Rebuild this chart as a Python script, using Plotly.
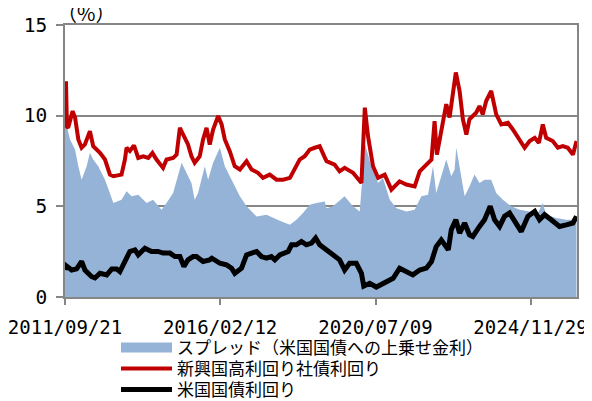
import plotly.graph_objects as go

# ---- data ----
hy_dates = ["2011-09-21","2011-10-01","2011-10-11","2011-10-24","2011-12-09","2012-01-03","2012-02-06","2012-03-11",
            "2012-04-14","2012-06-05","2012-07-09","2012-09-17","2012-11-08","2012-12-29","2013-02-03","2013-04-28",
            "2013-06-02","2013-06-19","2013-07-23","2013-09-04","2013-10-18","2013-12-09","2014-01-30","2014-03-14",
            "2014-04-25","2014-07-02","2014-08-07","2014-10-14","2014-11-19","2014-12-23","2015-01-26","2015-03-17",
            "2015-04-22","2015-05-25","2015-07-16","2015-08-20","2015-09-25","2015-10-28","2015-12-02","2016-01-23",
            "2016-02-28","2016-04-01","2016-05-22","2016-07-13","2016-09-04","2016-11-12","2017-01-03","2017-03-10",
            "2017-05-01","2017-07-10","2017-09-18","2017-11-25","2018-02-04","2018-03-25","2018-05-16","2018-07-07",
            "2018-08-28","2018-10-19","2018-12-09","2019-01-30","2019-02-18","2019-05-12","2019-07-03","2019-08-24",
            "2019-11-19","2020-02-14","2020-03-20","2020-04-22","2020-06-13","2020-08-04","2020-10-12","2020-12-20",
            "2021-03-15","2021-05-23","2021-08-18","2021-10-09","2021-12-17","2022-02-08","2022-03-12","2022-04-05",
            "2022-05-20","2022-07-11","2022-08-14","2022-10-05","2022-10-18","2022-11-26","2022-12-30","2023-02-04",
            "2023-03-08","2023-05-16","2023-06-20","2023-07-23","2023-08-28","2023-10-19","2023-12-10","2024-02-01",
            "2024-04-09","2024-05-30","2024-07-21","2024-09-29","2024-11-20","2025-01-11","2025-02-24","2025-04-05",
            "2025-05-10","2025-07-17","2025-09-08","2025-10-29","2025-12-20","2026-02-11","2026-03-20"]
hy_values = [9.5, 11.9, 9.4, 9.33, 10.25, 9.9, 8.69, 8.23,
             8.41, 9.15, 8.32, 7.95, 7.58, 6.75, 6.66, 6.75,
             7.58, 8.23, 8.05, 8.36, 7.67, 7.76, 7.67, 7.95,
             7.58, 7.12, 7.58, 7.67, 7.85, 9.33, 8.96, 8.41,
             7.76, 7.40, 7.76, 8.69, 9.33, 8.41, 9.24, 9.98,
             9.52, 8.69, 8.04, 7.21, 7.03, 7.49, 7.03, 6.85,
             6.57, 6.75, 6.47, 6.47, 6.57, 7.03, 7.58, 7.76,
             8.13, 8.23, 8.32, 7.70, 7.49, 7.30, 6.93, 7.12,
             6.85, 6.29, 10.44, 8.87, 7.21, 6.57, 6.75, 5.92,
             6.38, 6.20, 6.10, 6.93, 7.30, 7.58, 9.70, 7.85,
             9.15, 10.63, 9.90, 11.8, 12.38, 11.36, 9.80, 8.96,
             9.80, 10.16, 10.53, 10.07, 10.81, 11.36, 10.07, 9.52,
             9.61, 9.24, 8.78, 8.23, 8.60, 8.78, 8.50, 9.52,
             8.78, 8.60, 8.23, 8.32, 8.23, 7.85, 8.60]

ust_dates = ["2011-09-21","2011-10-01","2011-11-29","2012-01-20","2012-03-11","2012-04-14","2012-06-23","2012-07-27",
             "2012-09-17","2012-11-26","2013-01-17","2013-03-08","2013-04-11","2013-06-02","2013-07-23","2013-09-14",
             "2013-10-18","2013-12-26","2014-03-04","2014-05-11","2014-07-02","2014-09-11","2014-11-02","2014-12-23",
             "2015-02-03","2015-03-17","2015-05-08","2015-06-13","2015-08-20","2015-10-28","2015-11-19","2016-02-10",
             "2016-04-19","2016-06-10","2016-07-13","2016-09-21","2016-11-12","2017-01-03","2017-02-24","2017-04-15",
             "2017-06-06","2017-07-27","2017-09-01","2017-10-22","2017-12-13","2018-01-17","2018-02-21","2018-04-12",
             "2018-06-03","2018-07-24","2018-09-15","2018-10-28","2018-12-09","2019-01-30","2019-02-18","2019-04-25",
             "2019-07-03","2019-08-24","2019-10-15","2019-12-23","2020-02-14","2020-03-09","2020-05-09","2020-07-17",
             "2020-10-12","2021-01-07","2021-03-15","2021-05-23","2021-07-30","2021-10-09","2021-12-17","2022-02-08",
             "2022-03-29","2022-05-20","2022-07-11","2022-08-01","2022-09-01","2022-10-18","2022-11-26","2023-01-17",
             "2023-03-08","2023-04-12","2023-06-20","2023-08-11","2023-10-09","2023-11-23","2024-01-14","2024-03-05",
             "2024-04-26","2024-07-04","2024-08-25","2024-11-02","2025-01-11","2025-03-02","2025-04-23","2025-07-01",
             "2025-09-25","2025-12-04","2026-02-11","2026-03-20"]
ust_values = [1.49, 1.73, 1.49, 1.55, 1.96, 1.49, 1.12, 1.05,
              1.31, 1.22, 1.55, 1.55, 1.40, 2.05, 2.51, 2.60,
              2.33, 2.69, 2.51, 2.51, 2.42, 2.42, 2.23, 2.23,
              1.68, 2.05, 2.23, 2.23, 1.96, 2.05, 2.14, 1.86,
              1.77, 1.59, 1.31, 1.59, 2.32, 2.42, 2.51, 2.23,
              2.14, 2.23, 2.05, 2.32, 2.42, 2.51, 2.88, 2.88,
              3.06, 2.88, 2.97, 3.25, 2.88, 2.65, 2.60, 2.32,
              2.05, 1.49, 1.86, 1.86, 1.31, 0.60, 0.76, 0.55,
              0.76, 1.03, 1.59, 1.40, 1.22, 1.49, 1.59, 1.96,
              2.78, 3.15, 2.69, 2.60, 3.71, 4.26, 3.52, 4.08,
              3.43, 3.34, 3.89, 4.26, 5.00, 4.26, 3.89, 4.45,
              4.63, 4.08, 3.61, 4.45, 4.72, 4.26, 4.54, 4.26,
              3.89, 3.98, 4.08, 4.45]

spread_dates = ["2011-09-21","2011-10-01","2011-11-12","2012-01-03","2012-02-06","2012-03-11","2012-05-02","2012-06-05",
                "2012-07-09","2012-08-30","2012-11-08","2012-12-29","2013-02-03","2013-04-28","2013-06-19","2013-08-10",
                "2013-10-18","2014-01-13","2014-03-20","2014-06-16","2014-08-07","2014-10-14","2015-01-10","2015-03-01",
                "2015-04-22","2015-05-25","2015-06-29","2015-09-07","2015-10-11","2015-12-02","2016-02-10","2016-04-01",
                "2016-06-10","2016-09-04","2016-11-12","2017-02-24","2017-06-06","2017-09-01","2017-11-09","2018-02-04",
                "2018-04-12","2018-06-19","2018-08-28","2018-11-06","2019-01-30","2019-02-18","2019-04-25","2019-08-24",
                "2019-11-19","2020-01-27","2020-03-23","2020-05-26","2020-08-04","2020-09-24","2020-12-03","2021-02-11",
                "2021-05-23","2021-08-18","2021-10-26","2022-01-03","2022-02-24","2022-03-29","2022-05-20","2022-07-11",
                "2022-09-01","2022-10-05","2022-10-23","2022-12-14","2023-01-17","2023-03-08","2023-04-29","2023-06-20",
                "2023-08-11","2023-10-19","2023-12-10","2024-02-17","2024-05-13","2024-08-08","2024-11-20","2025-02-14",
                "2025-04-05","2025-05-10","2025-08-22","2025-12-04","2026-03-20"]
spread_values = [9.42, 9.6, 8.69, 8.13, 7.21, 6.47, 7.21, 7.95,
                 7.58, 7.21, 6.47, 5.74, 5.18, 5.36, 5.83, 5.55,
                 5.64, 5.18, 5.36, 4.81, 5.18, 5.74, 7.40, 6.85,
                 6.29, 5.36, 5.74, 7.21, 6.47, 7.40, 8.23, 7.21,
                 6.47, 5.55, 5.00, 4.44, 4.53, 4.35, 4.17, 3.98,
                 4.26, 4.63, 5.09, 5.18, 5.27, 4.90, 5.00, 5.55,
                 5.00, 4.72, 8.41, 7.21, 6.29, 6.56, 5.36, 4.90,
                 4.72, 4.81, 5.55, 5.64, 7.21, 5.74, 6.66, 7.58,
                 6.66, 7.03, 8.23, 6.66, 5.55, 6.10, 6.75, 6.29,
                 6.47, 6.47, 5.74, 5.36, 5.00, 4.81, 4.72, 4.63,
                 5.18, 4.53, 4.35, 4.26, 4.26]

tick_dates = ["2011-09-21", "2016-02-12", "2020-07-09", "2024-11-29"]
tick_labels = ["2011/09/21", "2016/02/12", "2020/07/09", "2024/11/29"]
y_ticks = [0, 5, 10, 15]

names = ["スプレッド（米国国債への上乗せ金利）", "新興国高利回り社債利回り", "米国国債利回り"]

BLUE = "#95B3D7"
RED = "#C00000"
GRAY = "#868686"
FONT = "Noto Sans CJK JP"
TICKFONT = "DejaVu Sans Mono"
OFF = 8  # page body margin of the html page

fig = go.Figure()
fig.add_trace(go.Scatter(x=spread_dates, y=spread_values, mode="lines", fill="tozeroy",
                         fillcolor=BLUE, line=dict(width=0, color=BLUE),
                         name=names[0], showlegend=False, legendgroup="s", hoverinfo="skip"))
# legend entry for the area (thick swatch)
fig.add_trace(go.Scatter(x=[None], y=[None], mode="lines", line=dict(width=10, color=BLUE),
                         name=names[0], legendgroup="s", legend="legend"))
fig.add_trace(go.Scatter(x=hy_dates, y=hy_values, mode="lines",
                         line=dict(width=4, color=RED), name=names[1], legend="legend2"))
fig.add_trace(go.Scatter(x=ust_dates, y=ust_values, mode="lines",
                         line=dict(width=5, color="black"), name=names[2], legend="legend3"))

W, H = 592, 401

def leg(yc):
    return dict(xref="container", yref="container", x=(116 - OFF) / W, y=1 - (yc - OFF) / H,
                xanchor="left", yanchor="middle",
                font=dict(family=FONT, size=17, color="black"),
                itemwidth=51, bgcolor="rgba(0,0,0,0)", borderwidth=0)

fig.update_layout(
    width=W, height=H,
    margin=dict(l=65 - OFF, r=W - (577.5 - OFF), t=25 - OFF, b=H - (297 - OFF), autoexpand=False),
    paper_bgcolor="white", plot_bgcolor="white",
    font=dict(family=FONT, size=18, color="black"),
    showlegend=True,
    legend=leg(348), legend2=leg(369), legend3=leg(390),
    annotations=[dict(text="（%）", xref="paper", yref="paper", x=0, y=1,
                      xanchor="left", yanchor="middle", xshift=-10, yshift=13,
                      showarrow=False, font=dict(family=FONT, size=20, color="black"))],
)
fig.update_xaxes(
    type="date", range=["2011-09-21", "2026-03-25"], automargin=False,
    tickmode="array", tickvals=tick_dates, ticktext=tick_labels,
    ticks="outside", ticklen=6, tickcolor=GRAY, tickwidth=1.5,
    showline=True, linecolor=GRAY, linewidth=1.5, mirror=True,
    showgrid=False, zeroline=False, ticklabeloverflow="allow",
    tickfont=dict(family=TICKFONT, size=19, color="black"),
    ticklabelstandoff=6,
)
fig.update_yaxes(
    range=[0, 15], tickmode="array", tickvals=y_ticks, automargin=False,
    ticks="outside", ticklen=7, tickcolor=GRAY, tickwidth=1.5,
    showline=True, linecolor=GRAY, linewidth=1.5, mirror=True,
    showgrid=True, gridcolor=GRAY, gridwidth=1.5, zeroline=False,
    tickfont=dict(family=TICKFONT, size=19.5, color="black"),
    ticklabelstandoff=5,
)

fig.write_html("out.html")
